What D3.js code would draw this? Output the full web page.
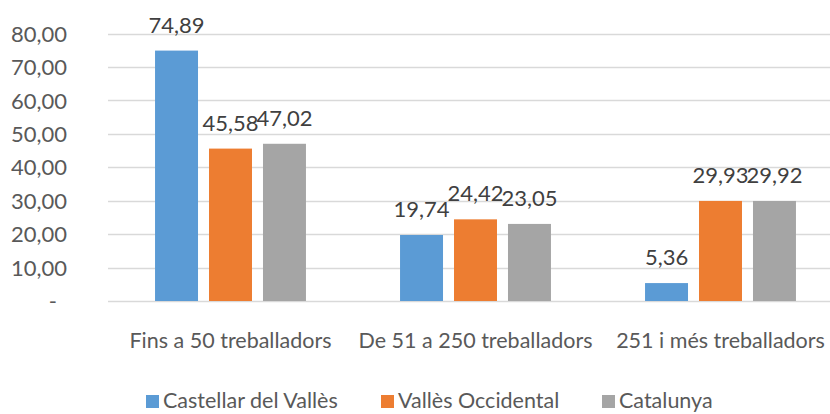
<!DOCTYPE html>
<html>
<head>
<meta charset="utf-8">
<script src="https://cdn.jsdelivr.net/npm/d3@7"></script>
<style>
  body { margin: 0; background: #fff; }
  text { font-family: Lato, "Open Sans", sans-serif; }
</style>
</head>
<body>
<script>
const categories = ["Fins a 50 treballadors", "De 51 a 250 treballadors", "251 i més treballadors"];
const series = ["Castellar del Vallès", "Vallès Occidental", "Catalunya"];
const castellar = [74.89, 19.74, 5.36];
const valles = [45.58, 24.42, 29.93];
const catalunya = [47.02, 23.05, 29.92];
const yTicks = [0, 10, 20, 30, 40, 50, 60, 70, 80];
const colors = ["#5B9BD5", "#ED7D31", "#A5A5A5"];

const w = 830;
const h = 414;
const values = [castellar, valles, catalunya];

const svg = d3.select("body")
              .append("svg")
              .attr("width", w)
              .attr("height", h)

const y = d3.scaleLinear()
            .domain([0, 80])
            .range([301, 33.5])

const x0 = d3.scaleBand()
             .domain(categories)
             .range([108, 843])
             .paddingInner(0.384)
             .paddingOuter(0.192)

const x1 = d3.scaleBand()
             .domain(series)
             .range([0, x0.bandwidth()])
             .paddingInner(0.2037)

const fmt = function(v){
  return v.toFixed(2).replace(".", ",")
}

//grid lines
svg.append("g")
   .selectAll("line")
   .data(yTicks)
   .enter()
   .append("line")
   .attr("x1", 108)
   .attr("x2", w)
   .attr("y1", d => Math.round(y(d)) + 0.5)
   .attr("y2", d => Math.round(y(d)) + 0.5)
   .attr("stroke", "#d9d9d9")
   .attr("stroke-width", 1.3)

//y axis
const yAxis = d3.axisLeft(y)
                .tickValues(yTicks)
                .tickSize(0)
                .tickPadding(0)
                .tickFormat(d => d === 0 ? "-" : fmt(d))

svg.append("g")
   .attr("transform", "translate(67,0)")
   .call(yAxis)
   .call(g => g.select(".domain").remove())
   .selectAll("text")
   .attr("fill", "#595959")
   .style("font-size", "22px")
   .attr("dy", "0.35em")
   .attr("dx", d => d === 0 ? -10 : 0)

//bars
const groups = svg.append("g")
                  .selectAll("g")
                  .data(categories)
                  .enter()
                  .append("g")
                  .attr("transform", d => "translate(" + x0(d) + ",0)")

groups.selectAll("rect")
      .data((c, i) => series.map((s, j) => ({s: s, j: j, v: values[j][i]})))
      .enter()
      .append("rect")
      .attr("x", d => x1(d.s))
      .attr("width", x1.bandwidth())
      .attr("y", d => y(d.v))
      .attr("height", d => y(0) - y(d.v))
      .attr("fill", d => colors[d.j])

groups.selectAll(".lbl")
      .data((c, i) => series.map((s, j) => ({s: s, j: j, v: values[j][i]})))
      .enter()
      .append("text")
      .classed("lbl", true)
      .attr("x", d => x1(d.s) + x1.bandwidth() / 2)
      .attr("y", d => y(d.v) - 18)
      .attr("text-anchor", "middle")
      .attr("fill", "#404040")
      .style("font-size", "22px")
      .text(d => fmt(d.v))

//x axis labels
const xAxis = d3.axisBottom(x0)
                .tickSize(0)
                .tickPadding(0)

svg.append("g")
   .attr("transform", "translate(0,333)")
   .call(xAxis)
   .call(g => g.select(".domain").remove())
   .selectAll("text")
   .attr("fill", "#595959")
   .attr("dy", "0.71em")
   .style("font-size", "21.5px")

//legend
const legendX = [146, 381, 602];
const legend = svg.append("g")
                  .selectAll("g")
                  .data(series)
                  .enter()
                  .append("g")
                  .attr("transform", (d, i) => "translate(" + legendX[i] + ",395)")

legend.append("rect")
      .attr("width", 13)
      .attr("height", 13)
      .attr("fill", (d, i) => colors[i])

legend.append("text")
      .attr("x", 17)
      .attr("y", 13)
      .attr("fill", "#595959")
      .style("font-size", "21.5px")
      .text(d => d)
</script>
</body>
</html>
